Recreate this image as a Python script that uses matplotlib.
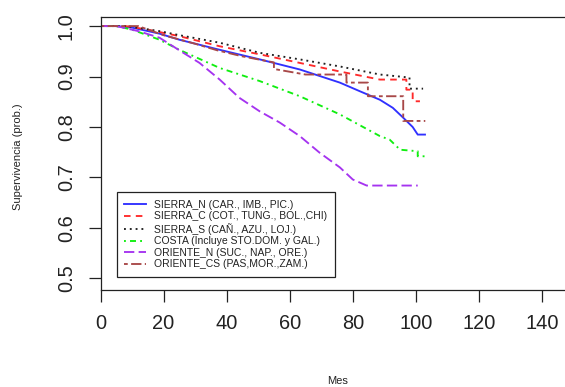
from matplotlib import pyplot as plt
import numpy as np

##-----------------------------------------------------------------------------
## data (months, survival probability)

mes_sierra_n = [0, 5, 10, 18.7, 25, 37.8, 50.5, 63.2, 75.9, 82.2, 88.6, 92.7, 95.9, 99, 100.6, 102.9]
sup_sierra_n = [1, 1, 0.997, 0.985, 0.973, 0.953, 0.934, 0.914, 0.888, 0.871, 0.854, 0.838, 0.819, 0.80, 0.785, 0.785]

mes_sierra_c = [0, 8, 15, 25, 37.8, 50.5, 63.2, 75.9, 88.6, 97, 97, 99, 99, 101.3]
sup_sierra_c = [1, 1, 0.993, 0.98, 0.96, 0.944, 0.927, 0.91, 0.894, 0.894, 0.874, 0.874, 0.851, 0.851]

mes_sierra_s = [0, 8, 18.7, 25, 37.8, 50.5, 63.2, 75.9, 88.6, 98, 98, 102.3]
sup_sierra_s = [1, 1, 0.99, 0.982, 0.967, 0.947, 0.934, 0.92, 0.904, 0.898, 0.876, 0.876]

mes_costa = [0, 5, 10, 18.7, 25, 37.8, 50.5, 63.2, 75.9, 88.6, 91.7, 95, 100.6, 100.6, 103]
sup_costa = [1, 1, 0.993, 0.973, 0.953, 0.917, 0.891, 0.861, 0.825, 0.782, 0.775, 0.755, 0.752, 0.742, 0.742]

mes_oriente_n = [0, 5, 12, 18.7, 25, 31.4, 37.8, 44, 50.5, 56.8, 63.2, 69.5, 75.9, 80, 84.4, 100.6]
sup_oriente_n = [1, 1, 0.99, 0.977, 0.952, 0.927, 0.894, 0.858, 0.831, 0.809, 0.782, 0.749, 0.72, 0.696, 0.684, 0.684]

mes_oriente_cs = [0, 12, 20, 30, 37, 45, 55, 55, 65, 78, 78, 84.8, 84.8, 96, 96, 103]
sup_oriente_cs = [1, 1, 0.982, 0.965, 0.952, 0.94, 0.928, 0.915, 0.904, 0.904, 0.888, 0.888, 0.861, 0.861, 0.812, 0.812]

etiquetas = ['SIERRA_N (CAR., IMB., PIC.)',
             'SIERRA_C (COT., TUNG., BOL.,CHI)',
             'SIERRA_S (CAÑ., AZU., LOJ.)',
             'COSTA (Incluye STO.DOM. y GAL.)',
             'ORIENTE_N (SUC., NAP., ORE.)',
             'ORIENTE_CS (PAS,MOR.,ZAM.)']

x_ticks = [0, 20, 40, 60, 80, 100, 120, 140]
y_ticks = [0.5, 0.6, 0.7, 0.8, 0.9, 1.0]

##-----------------------------------------------------------------------------

plt.rcParams['font.family'] = ['Liberation Sans', 'DejaVu Sans']

fig = plt.figure(figsize=(5.65, 3.87), dpi=100)
W, H = 565.0, 387.0
ax = fig.add_axes([100.5/W, 1 - 289.5/H, (576 - 100.5)/W, (289.5 - 17)/H])

lw = 1.35
series = [
    (mes_sierra_n,   sup_sierra_n,   '#3030ff', None),
    (mes_sierra_c,   sup_sierra_c,   '#ff2a2a', (3.5, 2.8)),
    (mes_sierra_s,   sup_sierra_s,   '#202020', (1, 2.1)),
    (mes_costa,      sup_costa,      '#10ee10', (1, 2.2, 3.2, 2.2)),
    (mes_oriente_n,  sup_oriente_n,  '#a533f0', (5.5, 2.3)),
    (mes_oriente_cs, sup_oriente_cs, '#a84848', (2, 1.8, 5.5, 1.8)),
]

for (xs, ys, col, dsh), lab in zip(series, etiquetas):
    line, = ax.plot(xs, ys, color=col, lw=lw, label=lab)
    if dsh is not None:
        line.set_dashes(dsh)

ax.set_xlim(0, (576 - 101) / 3.15)
ax.set_ylim(0.478, 1.018)
ax.set_xticks(x_ticks)
ax.set_yticks(y_ticks)
ax.set_xticklabels([str(t) for t in x_ticks])
ax.set_yticklabels(['%.1f' % t for t in y_ticks], rotation=90, va='center')
ax.tick_params(axis='both', length=8.3, width=0.9, labelsize=14.4,
               colors='#222222', pad=9.5)
ax.spines['right'].set_visible(False)
for s in ['left', 'bottom', 'top']:
    ax.spines[s].set_linewidth(0.9)
    ax.spines[s].set_color('#222222')

leg = ax.legend(loc='lower left', bbox_to_anchor=(0.034, 0.046), borderaxespad=0,
                fontsize=7.5, handlelength=2.1, handletextpad=0.75,
                labelspacing=0.14, borderpad=0.75, fancybox=False,
                edgecolor='#222222', framealpha=1)
leg.get_frame().set_linewidth(0.9)
for t in leg.get_texts():
    t.set_color('#222222')

fig.text(338/W, 1 - 381/H, 'Mes', ha='center', va='center', fontsize=8, color='#222222')
fig.text(18/W, 1 - 157/H, 'Supervivencia (prob.)', ha='center', va='center',
         rotation=90, fontsize=8, color='#222222')

fig.savefig('out.png', dpi=100)
